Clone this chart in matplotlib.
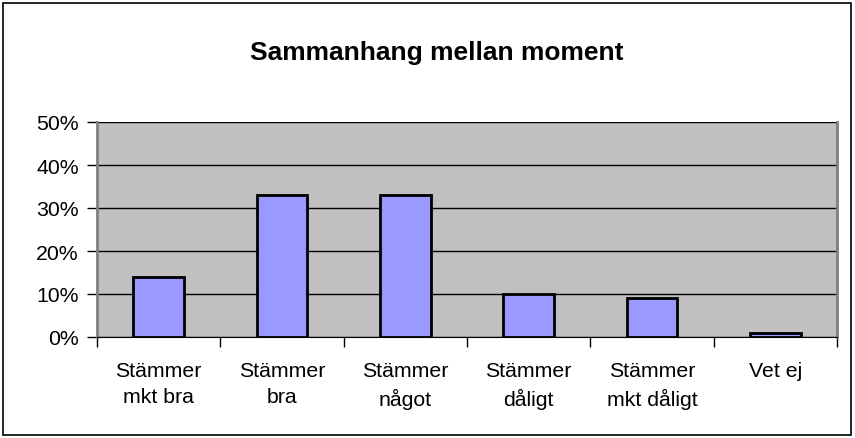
import numpy as np
import matplotlib
matplotlib.use('Agg')
from matplotlib import pyplot as plt
from matplotlib.patches import Rectangle

categories = ['Stämmer\nmkt bra', 'Stämmer\nbra', 'Stämmer\nnågot',
              'Stämmer\ndåligt', 'Stämmer\nmkt dåligt', 'Vet ej']
values = [0.14, 0.33, 0.33, 0.10, 0.09, 0.01]
yticks = [0, 0.1, 0.2, 0.3, 0.4, 0.5]
ytick_labels = ['0%', '10%', '20%', '30%', '40%', '50%']
title = 'Sammanhang mellan moment'

plt.rcParams['font.family'] = ['Liberation Sans', 'DejaVu Sans']

fig = plt.figure(figsize=(8.55, 4.39), dpi=100)
ax = fig.add_axes([97 / 855, 1 - 338 / 439, 740 / 855, 215 / 439])
ax.set_facecolor('#C0C0C0')

x = np.arange(len(categories))
ax.bar(x, values, width=0.41, color='#9999FF', edgecolor='black', linewidth=2, zorder=3)

ax.set_xlim(-0.5, len(categories) - 0.5)
ax.set_ylim(0, 0.5)
ax.set_yticks(yticks)
ax.set_yticklabels(ytick_labels, fontsize=15.3)
ax.yaxis.grid(True, color='black', linewidth=1)
ax.set_axisbelow(True)

# category labels in the middle, tick marks at the boundaries
ax.set_xticks(x)
ax.set_xticklabels(categories, fontsize=15.3, linespacing=1.5)
ax.tick_params(axis='x', length=0, pad=17)
ax.set_xticks(np.arange(-0.5, len(categories)), minor=True)
ax.tick_params(axis='x', which='minor', length=7, width=1, direction='out')
ax.tick_params(axis='y', length=7, width=1, direction='out', pad=6)

ax.spines['top'].set_visible(False)
ax.spines['right'].set_color('#808080')
ax.spines['right'].set_linewidth(2)
ax.spines['left'].set_color('#808080')
ax.spines['left'].set_linewidth(2)
ax.spines['bottom'].set_color('black')

fig.text(437 / 855, 1 - 53 / 439, title, fontsize=19, fontweight='bold',
         ha='center', va='center')

fig.patches.append(Rectangle((3 / 855, 3 / 439), 848 / 855, 432 / 439,
                             transform=fig.transFigure, fill=False,
                             edgecolor='black', linewidth=1.2))

fig.savefig('out.png', dpi=100)
